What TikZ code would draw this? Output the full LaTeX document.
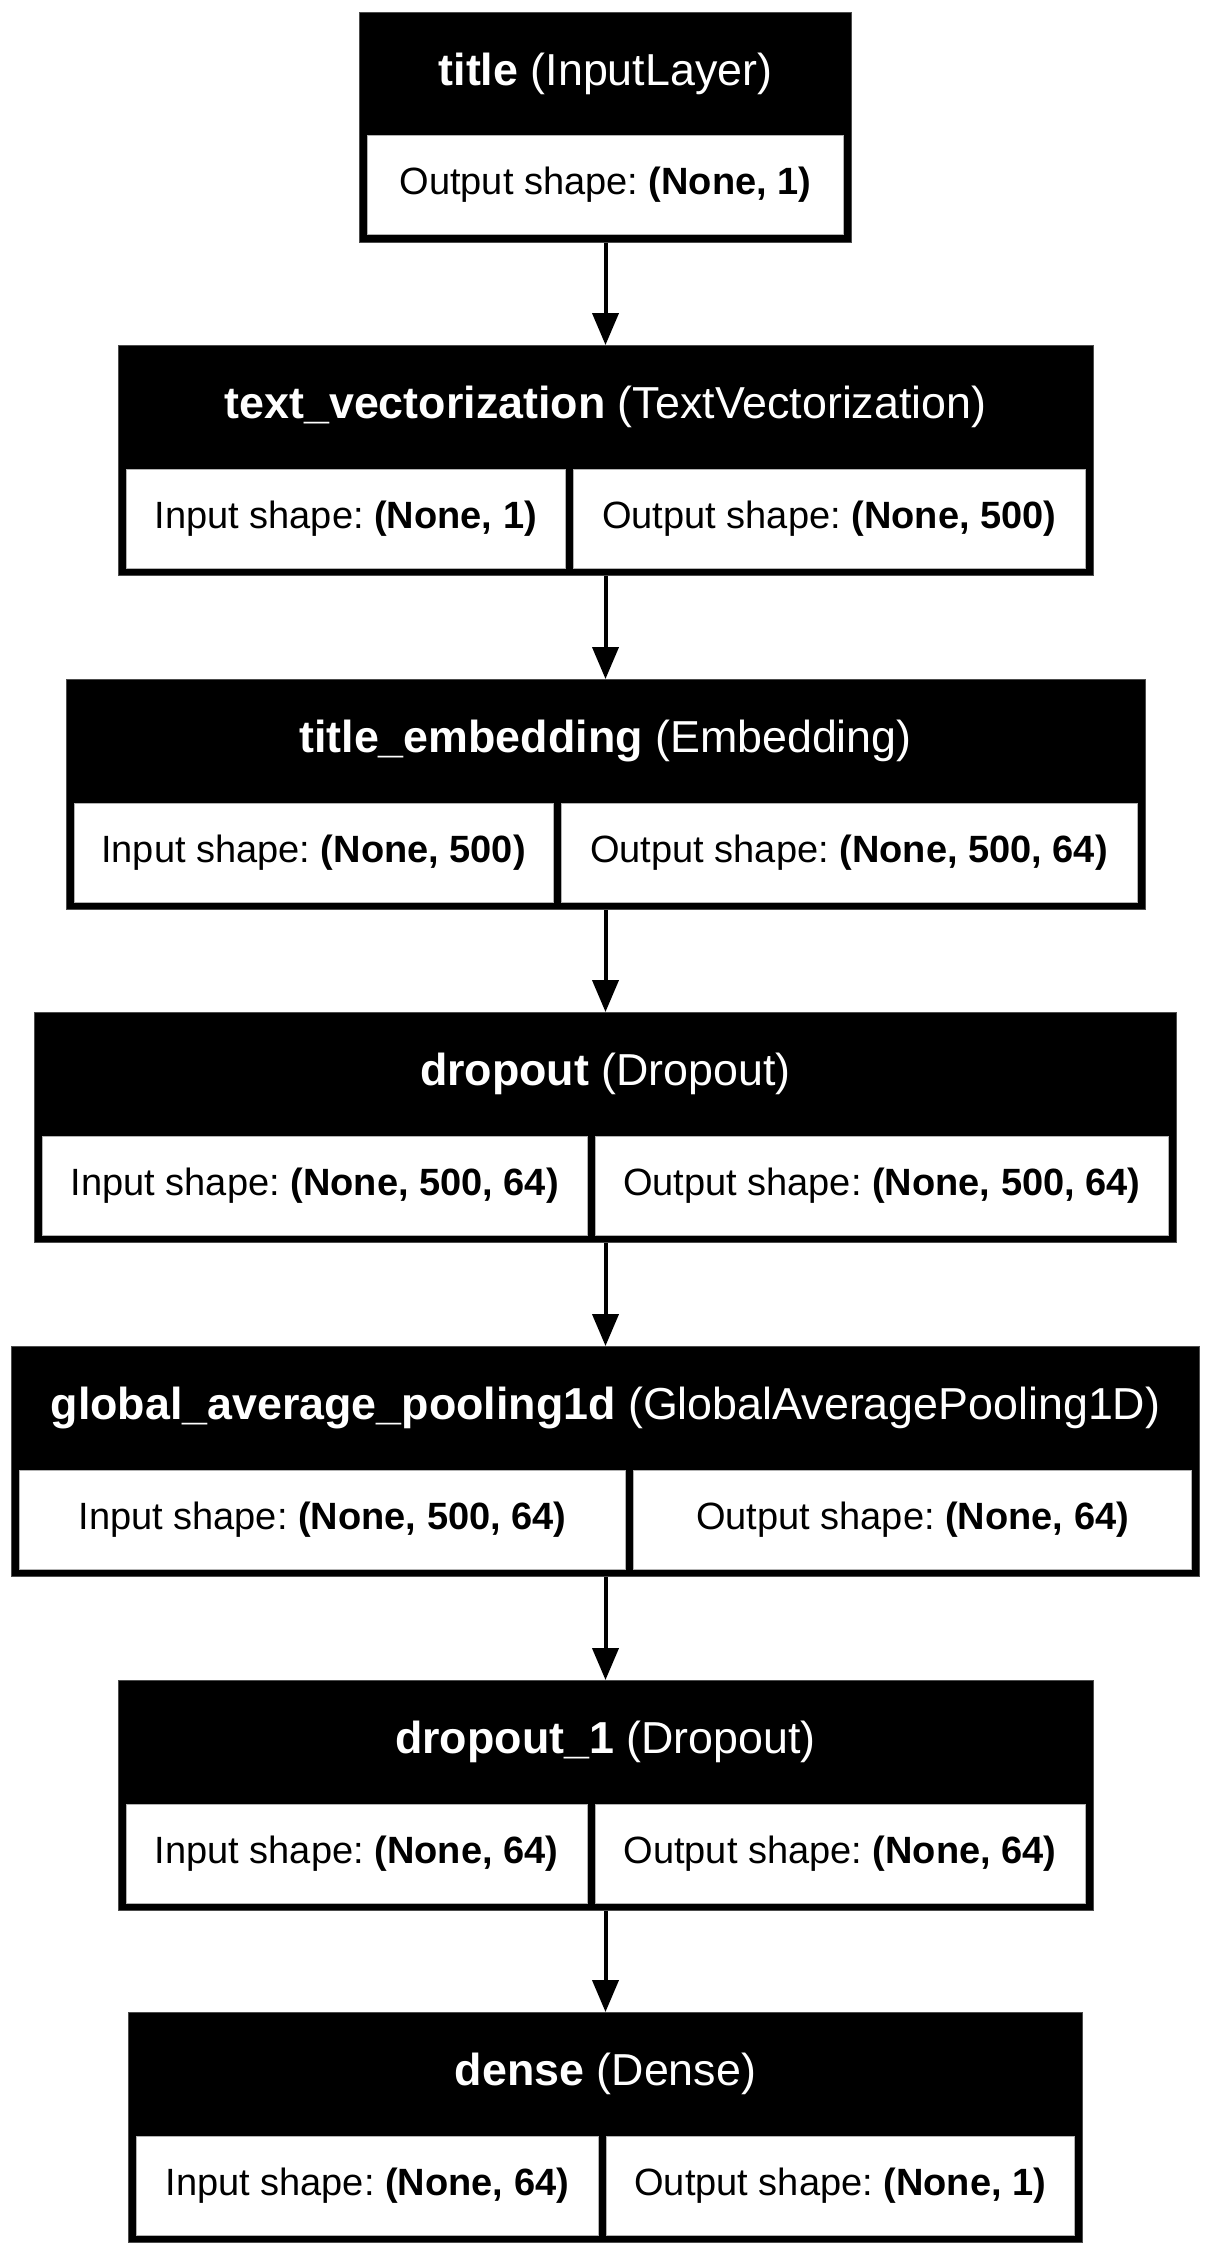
\documentclass[tikz,border=0pt]{standalone}
\usepackage{fontspec}
\setmainfont{Liberation Sans}
\usepackage{xcolor}
\usepackage{tikz}
\usetikzlibrary{arrows.meta, positioning}
\frenchspacing

\begin{document}
\begin{tikzpicture}[
    x=0.5pt, y=-0.5pt,
    layer/.style={rectangle, fill=black, draw=gray!60!black, line width=0.5pt, anchor=north, minimum height=115pt, inner sep=0pt},
    head/.style={text=white, font=\fontsize{22.4}{27}\selectfont, inner sep=0pt},
    cell/.style={rectangle, fill=white, draw=gray!60, line width=0.5pt, minimum height=49.5pt, inner sep=0pt, font=\fontsize{19}{23}\selectfont},
    arrow/.style={-{Triangle[length=16pt, width=13pt]}, line width=2pt}
  ]
  \useasboundingbox (0,0) rectangle (1211,2256);

  % Input layer
  \node[layer, minimum width=246pt] (title) at (605.5,11.5) {};
  \node[head] (title-head) at (605.5,73.5) {\textbf{title} (InputLayer)};
  \node[cell, minimum width=238pt] (title-out) at (605.5,185) {Output shape: \textbf{(None, 1)}};

  % Text vectorization
  \node[layer, minimum width=487.5pt] (vec) at (605.5,345) {};
  \node[head] (vec-head) at (605.5,407) {\textbf{text\_vectorization} (TextVectorization)};
  \node[cell, minimum width=219.75pt] (vec-in) at (345.75,518.5) {Input shape: \textbf{(None, 1)}};
  \node[cell, minimum width=255.75pt] (vec-out) at (829.25,518.5) {Output shape: \textbf{(None, 500)}};

  % Embedding
  \node[layer, minimum width=539.5pt] (emb) at (605.5,679) {};
  \node[head] (emb-head) at (605.5,741) {\textbf{title\_embedding} (Embedding)};
  \node[cell, minimum width=239.5pt] (emb-in) at (313.5,852.5) {Input shape: \textbf{(None, 500)}};
  \node[cell, minimum width=288pt] (emb-out) at (849,852.5) {Output shape: \textbf{(None, 500, 64)}};

  % Dropout
  \node[layer, minimum width=571pt] (drop) at (605.5,1012) {};
  \node[head] (drop-head) at (605.5,1074) {\textbf{dropout} (Dropout)};
  \node[cell, minimum width=272.25pt] (drop-in) at (314.75,1185.5) {Input shape: \textbf{(None, 500, 64)}};
  \node[cell, minimum width=286.75pt] (drop-out) at (881.75,1185.5) {Output shape: \textbf{(None, 500, 64)}};

  % Pooling
  \node[layer, minimum width=594pt] (pool) at (605.5,1346) {};
  \node[head] (pool-head) at (605.5,1408) {\textbf{global\_average\_pooling1d} (GlobalAveragePooling1D)};
  \node[cell, minimum width=303pt] (pool-in) at (322.5,1519.5) {Input shape: \textbf{(None, 500, 64)}};
  \node[cell, minimum width=279pt] (pool-out) at (912.5,1519.5) {Output shape: \textbf{(None, 64)}};

  % Dropout 1
  \node[layer, minimum width=487.5pt] (drop1) at (605.5,1680) {};
  \node[head] (drop1-head) at (605.5,1742) {\textbf{dropout\_1} (Dropout)};
  \node[cell, minimum width=230.5pt] (drop1-in) at (356.5,1853.5) {Input shape: \textbf{(None, 64)}};
  \node[cell, minimum width=245pt] (drop1-out) at (840,1853.5) {Output shape: \textbf{(None, 64)}};

  % Dense
  \node[layer, minimum width=477pt] (dense) at (605.5,2012) {};
  \node[head] (dense-head) at (605.5,2074) {\textbf{dense} (Dense)};
  \node[cell, minimum width=230.75pt] (dense-in) at (367.25,2185.5) {Input shape: \textbf{(None, 64)}};
  \node[cell, minimum width=234.25pt] (dense-out) at (840.25,2185.5) {Output shape: \textbf{(None, 1)}};

  % Arrows
  \draw[arrow] (title) -- (vec);
  \draw[arrow] (vec) -- (emb);
  \draw[arrow] (emb) -- (drop);
  \draw[arrow] (drop) -- (pool);
  \draw[arrow] (pool) -- (drop1);
  \draw[arrow] (drop1) -- (dense);

\end{tikzpicture}
\end{document}
